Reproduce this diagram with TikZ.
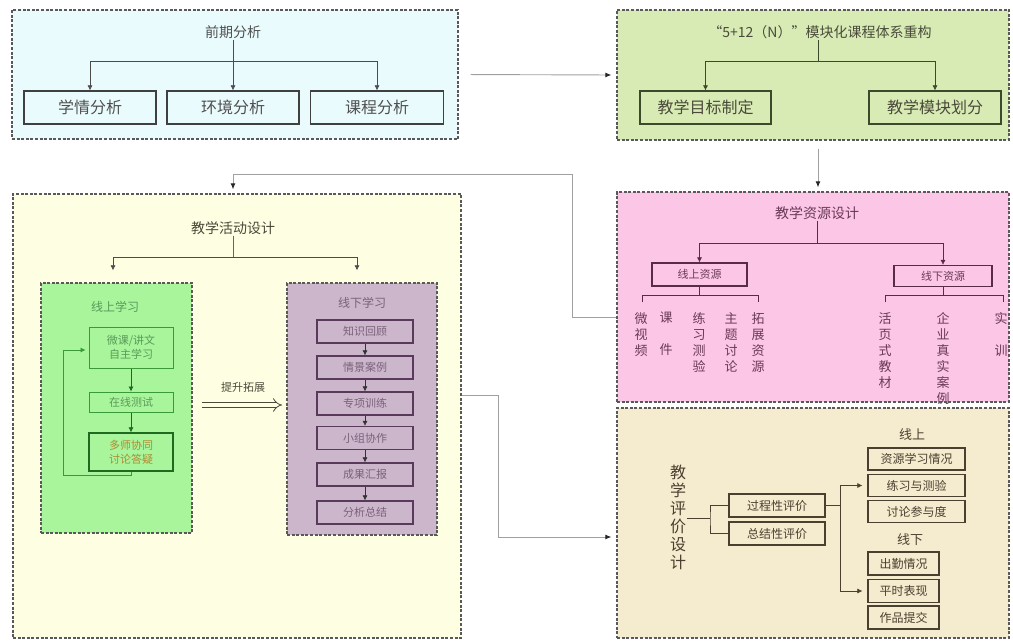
\documentclass[tikz,border=0pt]{standalone}
\usepackage{fontspec}
\setmainfont{Noto Sans CJK SC}
\usetikzlibrary{arrows.meta,positioning,calc}
\definecolor{cPre}{HTML}{EAFBFD}
\definecolor{cMod}{HTML}{D8EBB5}
\definecolor{cRes}{HTML}{FCC6E6}
\definecolor{cAct}{HTML}{FEFEE2}
\definecolor{cOn}{HTML}{A8F59C}
\definecolor{cOff}{HTML}{CCB6CC}
\definecolor{cEval}{HTML}{F5EBCF}
\definecolor{tGray}{HTML}{505050}
\definecolor{tMod}{HTML}{4A4A3A}
\definecolor{bMod}{HTML}{3A4A2A}
\definecolor{tRes}{HTML}{6A3A5A}
\definecolor{bRes}{HTML}{5A2A4A}
\definecolor{tOn}{HTML}{5A9A5A}
\definecolor{bOn}{HTML}{3A9A3A}
\definecolor{bOnD}{HTML}{1E6A1E}
\definecolor{tOnY}{HTML}{B08A30}
\definecolor{tOff}{HTML}{7A627A}
\definecolor{bOff}{HTML}{5A3A5A}
\definecolor{tEval}{HTML}{4A4030}
\definecolor{lnGray}{HTML}{A0A0A0}
\tikzset{
  region/.style={draw=black!65, dash pattern=on 3pt off 1.6pt, line width=1.3pt, inner sep=0pt},
  box/.style={draw, line width=1.2pt, inner sep=0pt, align=center},
  lbl/.style={inner sep=1pt, align=center},
  garr/.style={draw=lnGray, line width=0.9pt, -{Latex[length=6pt,width=5pt,black!85]}},
  gln/.style={draw=lnGray, line width=0.9pt},
  darr/.style={line width=0.6pt, -{Latex[length=5pt,width=5pt]}},
  dln/.style={line width=0.6pt},
  vtext/.style={anchor=north, align=center, inner sep=0pt, text=tRes, font=\fontsize{13}{16}\selectfont},
}
\begin{document}
\begin{tikzpicture}[x=1pt,y=-1pt]
\fill[white] (0,0) rectangle (1013,641);
\useasboundingbox (0,0) rectangle (1013,641);

% ===== region boxes =====
\node[region, fill=cPre, minimum width=446, minimum height=129] (preBox) at (235,74.5) {};
\node[region, fill=cMod, minimum width=392, minimum height=130] (modBox) at (813,75) {};
\node[region, fill=cRes, minimum width=392, minimum height=210] (resBox) at (813,297) {};
\node[region, fill=cEval, minimum width=392, minimum height=230] (evalBox) at (813,523) {};
\node[region, fill=cAct, minimum width=448, minimum height=444] (actBox) at (237,416) {};
\node[region, fill=cOn, minimum width=151, minimum height=250] (onBox) at (116.5,408) {};
\node[region, fill=cOff, minimum width=150, minimum height=252] (offBox) at (362,409) {};

% ===== 前期分析 =====
\begin{scope}[every node/.append style={text=tGray}]
\node[lbl, font=\fontsize{14}{16}\selectfont] (preT) at (233,32) {前期分析};
\node[box, draw=black!75, fill=cPre, minimum width=132, minimum height=33, font=\fontsize{16}{18}\selectfont] (xq) at (90,107.5) {学情分析};
\node[box, draw=black!75, fill=cPre, minimum width=132, minimum height=33, font=\fontsize{16}{18}\selectfont] (hj) at (233,107.5) {环境分析};
\node[box, draw=black!75, fill=cPre, minimum width=133, minimum height=33, font=\fontsize{16}{18}\selectfont] (kc) at (377,107.5) {课程分析};
\end{scope}
\coordinate (preJ) at (233,61);
\draw[dln, draw=black!70] (preT.south) -- (preJ);
\draw[darr, draw=black!70] (preJ) -- (hj.north);
\draw[darr, draw=black!70] (preJ) -| (xq.north);
\draw[darr, draw=black!70] (preJ) -| (kc.north);

% ===== 模块化课程体系重构 =====
\begin{scope}[every node/.append style={text=tMod}]
\node[lbl, font=\fontsize{14}{16}\selectfont] (modT) at (820,32) {“5+12（N）”模块化课程体系重构};
\node[box, draw=bMod, fill=cMod, minimum width=131, minimum height=33, font=\fontsize{16}{18}\selectfont] (mb1) at (705.5,107.5) {教学目标制定};
\node[box, draw=bMod, fill=cMod, minimum width=132, minimum height=33, font=\fontsize{16}{18}\selectfont] (mb2) at (935,107.5) {教学模块划分};
\end{scope}
\coordinate (modJ) at (818,61);
\draw[dln, draw=bMod] (modJ |- modT.south) -- (modJ);
\draw[darr, draw=bMod] (modJ) -| (mb1.north);
\draw[darr, draw=bMod] (modJ) -| (mb2.north);

% ===== 教学资源设计 =====
\node[lbl, text=tRes, font=\fontsize{14}{16}\selectfont] (resT) at (817,213) {教学资源设计};
\node[box, draw=bRes, fill=cRes, text=tRes, minimum width=95, minimum height=23, font=\fontsize{11}{13}\selectfont] (onRes) at (699.5,274.5) {线上资源};
\node[box, draw=bRes, fill=cRes, text=tRes, minimum width=98, minimum height=21, font=\fontsize{11}{13}\selectfont] (offRes) at (943,276) {线下资源};
\coordinate (resJ) at (817,243);
\draw[dln, draw=bRes] (resT.south) -- (resJ);
\draw[darr, draw=bRes] (resJ) -| (onRes.north);
\draw[darr, draw=bRes] (resJ) -| (offRes.north);
% bracket online
\coordinate (onBr) at (699.5,295);
\draw[dln, draw=bRes] (onRes.south) -- (onBr);
\draw[dln, draw=bRes] (642,302) -- (642,295) -- (758,295) -- (758,302);
\node[vtext] (v1) at (641,312) {微\\视\\频};
\node[vtext] (v2) at (666,312) {课\\[16pt]件};
\node[vtext] (v3) at (699,312) {练\\习\\测\\验};
\node[vtext] (v4) at (731,312) {主\\题\\讨\\论};
\node[vtext] (v5) at (758,312) {拓\\展\\资\\源};
% bracket offline
\coordinate (offBr) at (943,295);
\draw[dln, draw=bRes] (offRes.south) -- (offBr);
\draw[dln, draw=bRes] (885,302) -- (885,295) -- (1003,295) -- (1003,302);
\node[vtext] (v6) at (885,312) {活\\页\\式\\教\\材};
\node[vtext] (v7) at (943,312) {企\\业\\真\\实\\案\\例};
\node[vtext] (v8) at (1001,312) {实\\[16pt]训};

% ===== 教学评价设计 =====
\begin{scope}[every node/.append style={text=tEval}]
\node[lbl, inner sep=0pt, font=\fontsize{16}{18}\selectfont] (evT) at (678,517) {教\\学\\评\\价\\设\\计};
\node[box, draw=tEval, fill=cEval, minimum width=96, minimum height=23, font=\fontsize{12}{14}\selectfont] (gc) at (777,505.5) {过程性评价};
\node[box, draw=tEval, fill=cEval, minimum width=96, minimum height=23, font=\fontsize{12}{14}\selectfont] (zj) at (777,533.5) {总结性评价};
\node[lbl, font=\fontsize{13}{15}\selectfont] (xsL) at (912,435) {线上};
\node[box, draw=tEval, fill=cEval, minimum width=97, minimum height=22, font=\fontsize{12}{14}\selectfont] (e1) at (916.5,459) {资源学习情况};
\node[box, draw=tEval, fill=cEval, minimum width=97, minimum height=22, font=\fontsize{12}{14}\selectfont] (e2) at (916.5,485.5) {练习与测验};
\node[box, draw=tEval, fill=cEval, minimum width=97, minimum height=22, font=\fontsize{12}{14}\selectfont] (e3) at (916.5,511.5) {讨论参与度};
\node[lbl, font=\fontsize{13}{15}\selectfont] (xxL) at (910,540) {线下};
\node[box, draw=tEval, fill=cEval, minimum width=71, minimum height=23, font=\fontsize{12}{14}\selectfont] (e4) at (903.5,563.5) {出勤情况};
\node[box, draw=tEval, fill=cEval, minimum width=71, minimum height=23, font=\fontsize{12}{14}\selectfont] (e5) at (903.5,591) {平时表现};
\node[box, draw=tEval, fill=cEval, minimum width=71, minimum height=23, font=\fontsize{12}{14}\selectfont] (e6) at (903.5,617.5) {作品提交};
\end{scope}
\coordinate (evJ) at (710,518);
\draw[dln, draw=tEval] ([xshift=1pt]evT.east |- evJ) -- (evJ);
\draw[dln, draw=tEval] (gc.west) -| (evJ) |- (zj.west);
\coordinate (gcJ) at (840,505.5);
\draw[dln, draw=tEval] (gc.east) -- (gcJ);
\draw[darr, draw=tEval, shorten >=5pt] (gcJ) |- (e2.west);
\draw[darr, draw=tEval, shorten >=5pt] (gcJ) |- (e5.west);

% ===== 教学活动设计 =====
\node[lbl, text=tMod, font=\fontsize{14}{16}\selectfont] (actT) at (233,228) {教学活动设计};
\coordinate (actJ) at (233,257);
\draw[dln, draw=black!60] (actT.south) -- (actJ);
\draw[darr, draw=black!70, shorten >=12pt] (actJ) -| (onBox.north -| 113,0);
\draw[darr, draw=black!70, shorten >=12pt] (actJ) -| (offBox.north -| 357,0);

% online learning
\node[lbl, text=tOn, font=\fontsize{12}{14}\selectfont] (onT) at (115,307) {线上学习};
\node[box, draw=bOn, line width=1pt, fill=cOn, text=tOn, minimum width=84, minimum height=41, font=\fontsize{11}{14}\selectfont] (w1) at (131,347.5) {微课/讲文\\自主学习};
\node[box, draw=bOn, line width=1pt, fill=cOn, text=tOn, minimum width=84, minimum height=20, font=\fontsize{11}{14}\selectfont] (w2) at (131,402) {在线测试};
\node[box, draw=bOnD, line width=1.4pt, fill=cOn, text=tOnY, minimum width=84, minimum height=38, font=\fontsize{11}{14}\selectfont] (w3) at (131,452) {多师协同\\讨论答疑};
\draw[darr, draw=bOnD] (w1.south) -- (w2.north);
\draw[darr, draw=bOnD] (w2.south) -- (w3.north);
\coordinate (lpA) at (131,475);
\coordinate (lpB) at (63,475);
\coordinate (lpC) at (63,350);
\draw[dln, draw=bOn] (w3.south) -- (lpA) -- (lpB) -- (lpC);
\draw[darr, draw=bOn, shorten >=3pt] (lpC) -- (lpC -| w1.west);

% offline learning
\node[lbl, text=tOff, font=\fontsize{12}{14}\selectfont] (offT) at (362,303) {线下学习};
\begin{scope}[every node/.append style={box, draw=bOff, fill=cOff, text=tOff, minimum width=96, minimum height=23, font=\fontsize{11}{13}\selectfont}]
\node (f1) at (365,331.5) {知识回顾};
\node (f2) at (365,367.5) {情景案例};
\node (f3) at (365,403.5) {专项训练};
\node (f4) at (365,438) {小组协作};
\node (f5) at (365,474.5) {成果汇报};
\node (f6) at (365,512.5) {分析总结};
\end{scope}
\foreach \a/\b in {f1/f2,f2/f3,f3/f4,f4/f5,f5/f6}{
  \draw[darr, draw=black!80] (\a.south) -- (\b.north);
}

% hollow arrow
\coordinate (haS) at (202,405);
\coordinate (haE) at (282,405);
\draw[draw=tMod, double=cAct, double distance=4pt, line width=0.8pt, -{Implies[length=6pt]}] (haS) -- (haE);
\node[lbl, text=tMod, font=\fontsize{11}{13}\selectfont] (haL) at (243,387) {提升拓展};

% ===== big connectors =====
\draw[garr, shorten <=12pt, shorten >=5pt] (preBox.east) -- (modBox.west);
\draw[garr, shorten <=8pt, shorten >=4pt] (modJ |- modBox.south) -- (modJ |- resBox.north);
\coordinate (rc1) at (572,317);
\coordinate (rc2) at (572,174);
\draw[gln] (resBox.west |- rc1) -- (rc1) -- (rc2);
\draw[garr, shorten >=4pt] (rc2) -| (actT |- actBox.north);
\coordinate (ac1) at (498,395);
\coordinate (ac2) at (498,537);
\draw[gln] (actBox.east |- ac1) -- (ac1) -- (ac2);
\draw[garr, shorten >=5pt] (ac2) -- (evalBox.west |- ac2);
\end{tikzpicture}
\end{document}
